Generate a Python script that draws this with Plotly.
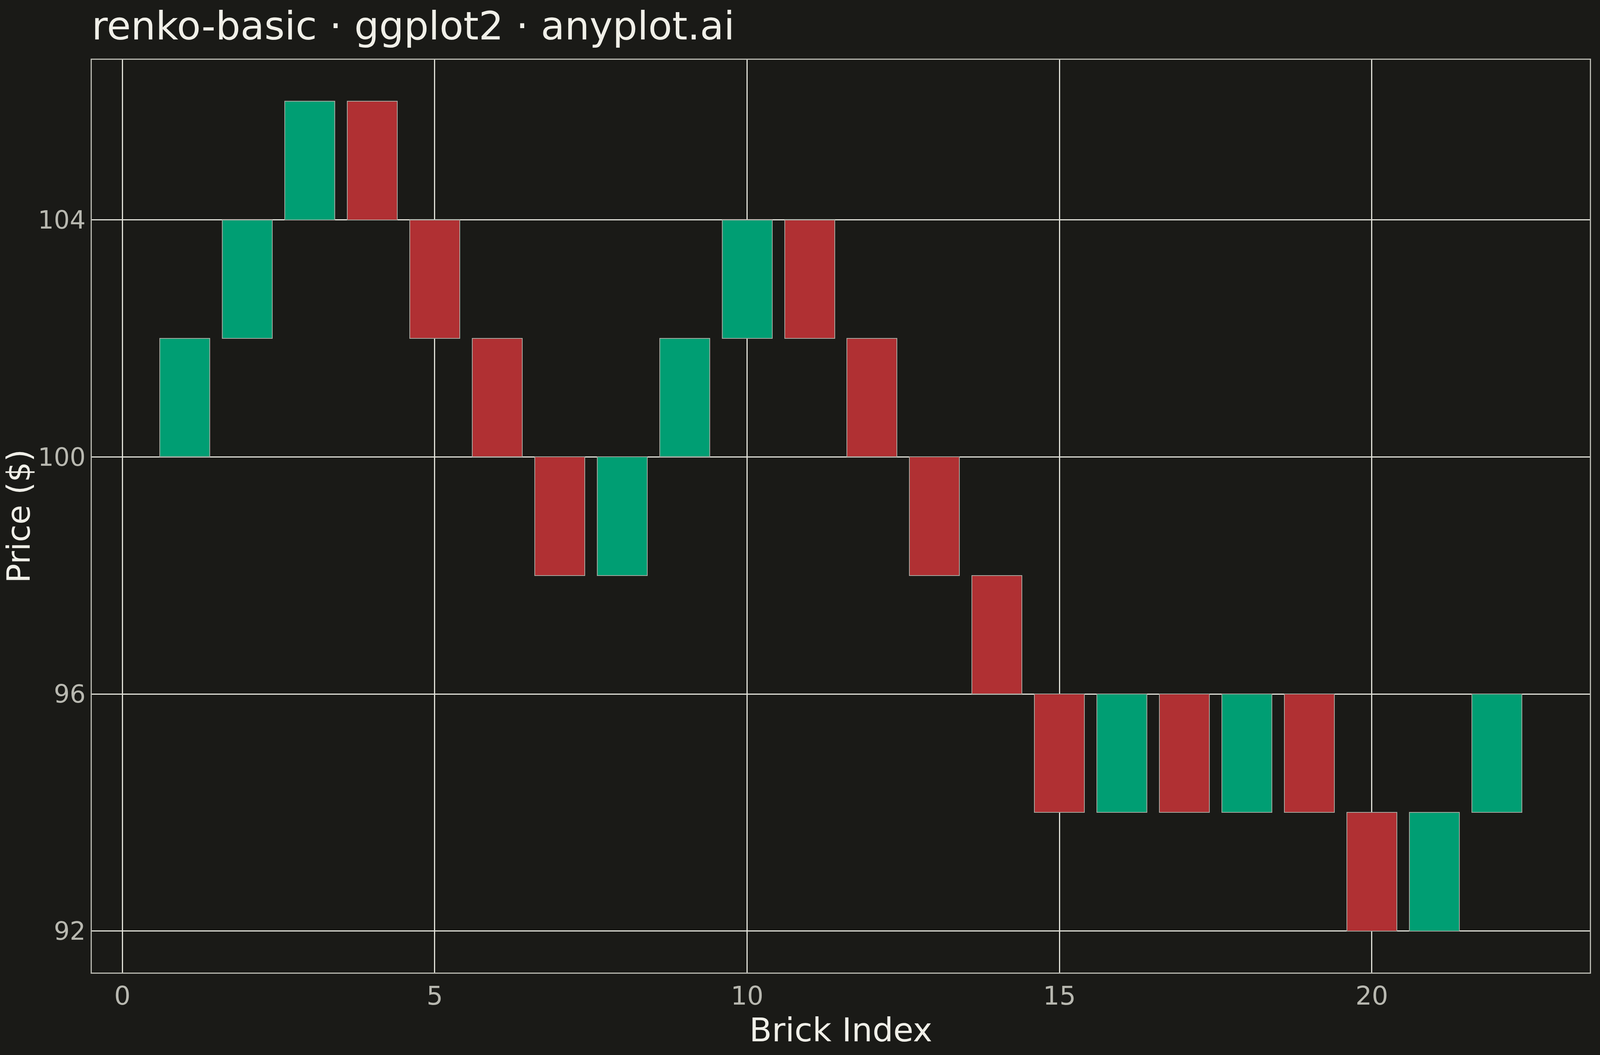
import plotly.graph_objects as go

brick_index = list(range(1, 23))
brick_low = [100, 102, 104, 104, 102, 100, 98, 98, 100, 102, 102, 100, 98, 96, 94, 94, 94, 94, 94, 92, 92, 94]
brick_dir = ["up", "up", "up", "down", "down", "down", "down", "up", "up", "up", "down", "down",
             "down", "down", "down", "up", "down", "up", "down", "down", "up", "up"]
brick_size = 2
x_ticks = [0, 5, 10, 15, 20]
y_ticks = [92, 96, 100, 104]

UP = "#009E73"
DOWN = "#B03033"
BG = "#1A1A17"

# The browser viewport is narrower (4096 px) than the 4800 px reference;
# horizontal pixel margins are scaled to keep the reference proportions.
HSCALE = 4096 / 4800

fig = go.Figure()
for d, col in (("up", UP), ("down", DOWN)):
    xs = [i for i, dd in zip(brick_index, brick_dir) if dd == d]
    lows = [l for l, dd in zip(brick_low, brick_dir) if dd == d]
    fig.add_trace(go.Bar(
        x=xs, y=[brick_size] * len(xs), base=lows, width=0.8,
        marker=dict(color=col, line=dict(color="#A8A8A0", width=2)),
        showlegend=False, name=d,
    ))

fig.update_layout(
    autosize=True,
    paper_bgcolor=BG, plot_bgcolor=BG,
    margin=dict(l=round(275 * HSCALE), r=round(31 * HSCALE), t=153, b=211),
    font=dict(family="DejaVu Sans", color="#F0EFE8"),
    bargap=0,
    title=dict(text="renko-basic · ggplot2 · anyplot.ai", x=275 / 4800, xanchor="left",
               y=1 - 101 / 2700, yanchor="bottom", yref="container",
               font=dict(size=100, color="#F0EFE8")),
    xaxis=dict(range=[-0.49, 23.49], tickvals=x_ticks, ticktext=[str(v) for v in x_ticks],
               showgrid=True, gridcolor="#E0E0D8", gridwidth=2.5, zeroline=False,
               showline=True, mirror=True, linecolor="#B8B8B0", linewidth=3,
               ticks="", ticklen=0, tickfont=dict(size=66, color="#B8B8B0"),
               title=dict(text="Brick Index", font=dict(size=84, color="#F0EFE8"), standoff=16)),
    yaxis=dict(range=[91.3, 106.7], tickvals=y_ticks, ticktext=[str(v) for v in y_ticks],
               showgrid=True, gridcolor="#E0E0D8", gridwidth=2.5, zeroline=False,
               showline=True, mirror=True, linecolor="#B8B8B0", linewidth=3,
               ticks="", ticklen=0, tickfont=dict(size=64, color="#B8B8B0"),
               title=dict(text="Price ($)", font=dict(size=82, color="#F0EFE8"), standoff=14)),
)
post = """
var gd = document.getElementById('{plot_id}');
document.documentElement.style.margin = '0';
document.documentElement.style.background = '#1A1A17';
document.documentElement.style.overflow = 'hidden';
document.body.style.margin = '0';
document.body.style.background = '#1A1A17';
Plotly.Plots.resize(gd);
"""
fig.write_html("out.html", default_width="100vw", default_height="100vh",
               config={"responsive": True, "displayModeBar": False}, post_script=post)
